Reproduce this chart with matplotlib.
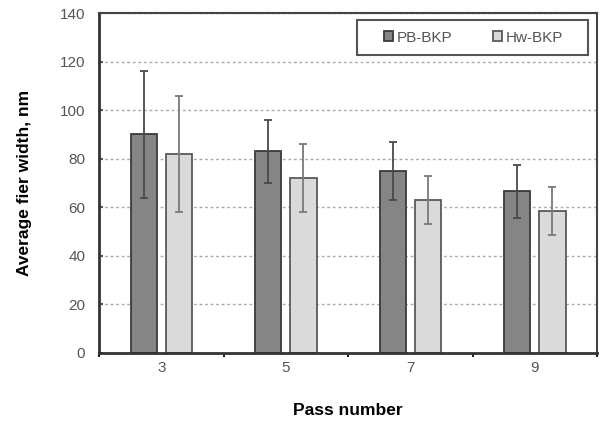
import matplotlib
matplotlib.use("Agg")
import matplotlib.pyplot as plt
from matplotlib.patches import Rectangle
import numpy as np

categories = ["3", "5", "7", "9"]
series_names = ["PB-BKP", "Hw-BKP"]
pb_values = [90, 83, 75, 66.5]
pb_errors = [26, 13, 12, 11]
hw_values = [82, 72, 63, 58.5]
hw_errors = [24, 14, 10, 10]
y_ticks = [0, 20, 40, 60, 80, 100, 120, 140]

plt.rcParams['font.family'] = ['Liberation Sans', 'DejaVu Sans']

fig = plt.figure(figsize=(6.02, 4.24), dpi=100)
ax = fig.add_axes([0.1645, 0.1675, 0.8272, 0.8018])

x = np.arange(len(categories))
w = 0.21
off = 0.142
ax.bar(x - off, pb_values, w, color="#858585", edgecolor="#3a3a3a", linewidth=1.3,
       label=series_names[0], zorder=2)
ax.bar(x + off, hw_values, w, color="#dadada", edgecolor="#5a5a5a", linewidth=1.3,
       label=series_names[1], zorder=2)
ax.errorbar(x - off, pb_values, yerr=pb_errors, fmt='none', ecolor="#4a4a4a",
            elinewidth=1.3, capsize=3, capthick=1.3, zorder=3)
ax.errorbar(x + off, hw_values, yerr=hw_errors, fmt='none', ecolor="#7a7a7a",
            elinewidth=1.3, capsize=3, capthick=1.3, zorder=3)

ax.set_xlim(-0.5, len(categories) - 0.5)
ax.set_ylim(0, 140)
ax.set_yticks(y_ticks)
ax.set_yticklabels([str(t) for t in y_ticks])
ax.set_xticks(x)
ax.set_xticklabels(categories)
ax.set_xticks(np.arange(-0.5, len(categories) + 0.5, 1), minor=True)
ax.tick_params(axis='x', which='major', length=0, pad=6, labelsize=11, colors="#555555")
ax.tick_params(axis='x', which='minor', length=3, width=1.5, direction='out', color="#222222")
ax.tick_params(axis='y', length=3, width=1.5, direction='in', pad=10, labelsize=11,
               colors="#555555")
for lab in ax.get_yticklabels() + ax.get_xticklabels():
    lab.set_color("#555555")

ax.yaxis.grid(True, linestyle=(0, (2, 2)), color="#aaaaaa", linewidth=1.0, zorder=0)
ax.set_axisbelow(True)
for s in ["left", "bottom"]:
    ax.spines[s].set_linewidth(2.0)
    ax.spines[s].set_color("#333333")
for s in ["top", "right"]:
    ax.spines[s].set_linewidth(1.5)
    ax.spines[s].set_color("#444444")

ax.set_ylabel("Average fier width, nm", fontsize=12.5, fontweight='bold', labelpad=20)
ax.set_xlabel("Pass number", fontsize=12.5, fontweight='bold', labelpad=20)

# legend box frame
box_x0, box_y0, box_w, box_h = 0.518, 0.876, 0.464, 0.103
ax.add_patch(Rectangle((box_x0, box_y0), box_w, box_h, transform=ax.transAxes,
                       facecolor="white", edgecolor="#555555", linewidth=1.5, zorder=4))
leg = ax.legend(loc='center', ncol=2, frameon=False,
                bbox_to_anchor=(box_x0 + box_w / 2 + 0.002, box_y0 + box_h / 2),
                handlelength=0.6, handleheight=0.6,
                columnspacing=2.7, handletextpad=0.2, fontsize=11, borderaxespad=0)
leg.set_zorder(5)
for t in leg.get_texts():
    t.set_color("#555555")

fig.savefig("out.png", dpi=100)
